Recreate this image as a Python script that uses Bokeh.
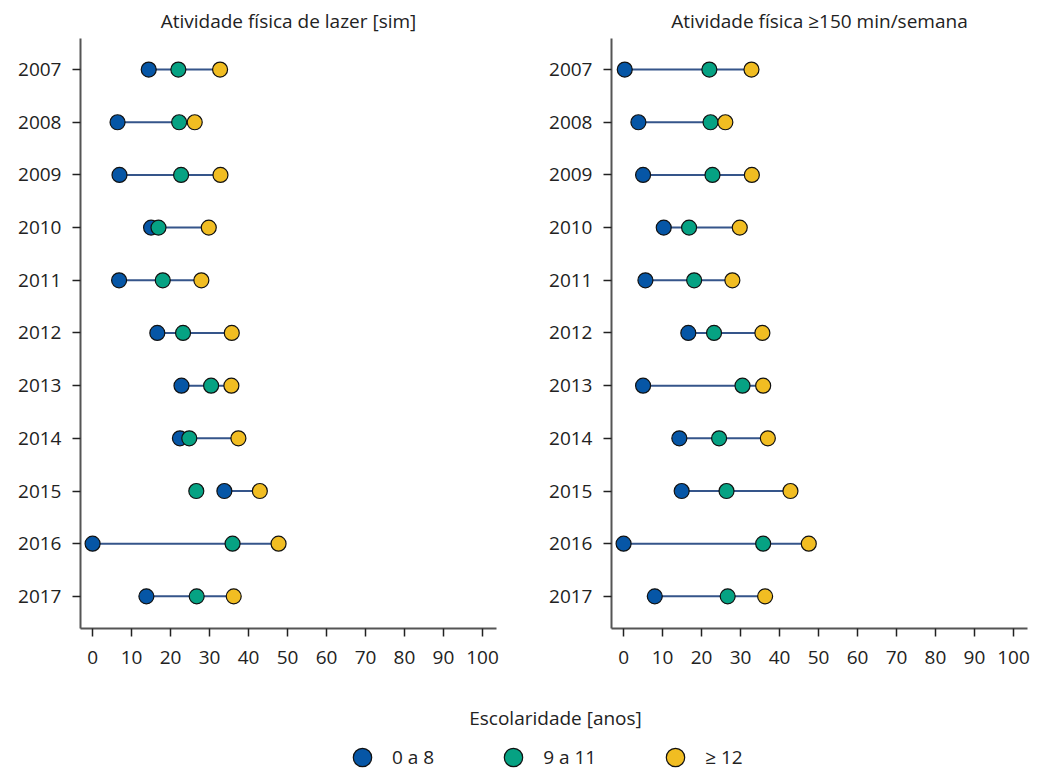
from bokeh.plotting import figure
from bokeh.models import Range1d, FixedTicker, Title, Legend, LegendItem, Label, ColumnDataSource
from bokeh.layouts import column, row
from bokeh.embed import file_html
from bokeh.resources import INLINE

years = [2007, 2008, 2009, 2010, 2011, 2012, 2013, 2014, 2015, 2016, 2017]
groups = ["0 a 8", "9 a 11", "\u2265 12"]
legend_title = "Escolaridade [anos]"
titles = ["Atividade f\u00edsica de lazer [sim]", "Atividade f\u00edsica \u2265150 min/semana"]
x_ticks = [0, 10, 20, 30, 40, 50, 60, 70, 80, 90, 100]

# Panel 1: Atividade física de lazer
lazer_0a8 = [14.4, 6.4, 6.9, 15.0, 6.8, 16.6, 22.8, 22.4, 33.8, 0.0, 13.8]
lazer_9a11 = [22.0, 22.2, 22.7, 16.9, 18.0, 23.2, 30.4, 24.8, 26.6, 35.9, 26.7]
lazer_12 = [32.7, 26.2, 32.8, 29.8, 27.9, 35.7, 35.6, 37.4, 42.9, 47.7, 36.2]

# Panel 2: Atividade física >=150 min/semana
ativ_0a8 = [0.3, 3.8, 5.0, 10.3, 5.6, 16.6, 5.0, 14.3, 14.9, 0.0, 8.0]
ativ_9a11 = [22.0, 22.3, 22.8, 16.8, 18.1, 23.2, 30.5, 24.5, 26.4, 35.8, 26.7]
ativ_12 = [32.8, 26.1, 32.9, 29.8, 27.9, 35.6, 35.8, 37.0, 42.8, 47.5, 36.3]

colors = ["#0656a6", "#06a283", "#f1bd22"]
seg_color = "#35558a"
FONT = "Open Sans"
FS = "19px"


def make_panel(title, v0, v1, v2, width, border_left, border_right):
    p = figure(width=width, height=680, output_backend="svg", toolbar_location=None,
               x_range=Range1d(-3.1, 103.6), y_range=Range1d(2017.61, 2006.41),
               min_border_left=border_left, min_border_right=border_right,
               min_border_top=38, min_border_bottom=52)
    t = Title(text=title, align="center", text_font=FONT, text_font_size=FS,
              text_font_style="normal", text_color="#222222", standoff=10)
    p.title = t
    p.outline_line_color = None
    p.xgrid.visible = False
    p.ygrid.visible = False
    src = ColumnDataSource(dict(y=years, a=v0, b=v1, c=v2))
    p.segment(x0="a", x1="c", y0="y", y1="y", source=src, line_color=seg_color, line_width=2)
    for col, c in zip(["a", "b", "c"], colors):
        p.scatter(x=col, y="y", source=src, size=15, fill_color=c, line_color="#111111",
                  line_width=1.2)
    for ax in (p.xaxis[0], p.yaxis[0]):
        ax.axis_line_color = "#555555"
        ax.axis_line_width = 2
        ax.major_tick_line_color = "#222222"
        ax.major_tick_line_width = 1.5
        ax.major_tick_out = 8
        ax.major_tick_in = 0
        ax.minor_tick_line_color = None
        ax.major_label_text_font = FONT
        ax.major_label_text_font_size = FS
        ax.major_label_text_color = "#222222"
    p.xaxis[0].ticker = FixedTicker(ticks=x_ticks)
    p.yaxis[0].ticker = FixedTicker(ticks=years)
    p.xaxis[0].major_label_standoff = 14
    p.yaxis[0].major_label_standoff = 11
    return p


p1 = make_panel(titles[0], lazer_0a8, lazer_9a11, lazer_12, 539, 80, 43)
p2 = make_panel(titles[1], ativ_0a8, ativ_9a11, ativ_12, 506, 72, 18)

# Legend figure
pl = figure(width=1045, height=92, output_backend="svg", toolbar_location=None,
            x_range=Range1d(0, 1), y_range=Range1d(0, 1),
            min_border_left=0, min_border_right=0, min_border_top=0, min_border_bottom=0)
pl.axis.visible = False
pl.xgrid.visible = False
pl.ygrid.visible = False
pl.outline_line_color = None
items = []
for g, c in zip(groups, colors):
    r = pl.scatter(x=[float("nan")], y=[float("nan")], size=18, fill_color=c,
                   line_color="#111111", line_width=1.2)
    items.append(LegendItem(label=g, renderers=[r]))
leg = Legend(items=items, orientation="horizontal", location=(339, -8),
             glyph_width=46, glyph_height=46, label_standoff=7, spacing=56,
             padding=0, margin=0, border_line_color=None, background_fill_alpha=0,
             label_text_font=FONT, label_text_font_size=FS, label_text_color="#222222")
pl.add_layout(leg, "center")
pl.add_layout(Label(x=555, y=55, x_units="screen", y_units="screen", text=legend_title,
                    text_align="center", text_baseline="middle", text_font=FONT,
                    text_font_size=FS, text_color="#222222"))

layout = column(row(p1, p2), pl, spacing=0)
open("out.html", "w").write(file_html(layout, INLINE))
